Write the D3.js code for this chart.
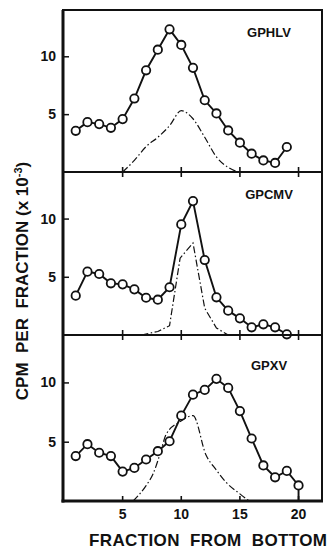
<!DOCTYPE html>
<html>
<head>
<meta charset="utf-8">
<script src="https://cdn.jsdelivr.net/npm/d3@7"></script>
<style>
  body { margin: 0; background: #fff; }
  text { font-family: "Liberation Sans", Arial, sans-serif; font-weight: bold; fill: #111; white-space: pre; }
</style>
</head>
<body>
<script>
// fraction numbers (x) for the circle series
const fractions = d3.range(1, 21);

// panel names, top to bottom
const panelNames = ["GPHLV", "GPCMV", "GPXV"];

// CPM per fraction (x 10^-3), circles
const gphlvCpm = [3.56, 4.31, 4.14, 3.82, 4.57, 6.35, 8.79, 10.57, 12.33, 10.98,
  9.0, 6.2, 5.06, 3.59, 2.53, 1.58, 1.0, 0.78, 2.16];
const gpcmvCpm = [3.38, 5.44, 5.24, 4.44, 4.35, 3.92, 3.2, 3.03, 4.1, 9.5,
  11.5, 6.44, 3.24, 2.09, 1.43, 0.66, 0.92, 0.66, 0.06];
const gpxvCpm = [3.79, 4.79, 4.07, 3.79, 2.48, 2.79, 3.5, 4.2, 5.04, 7.2,
  8.97, 9.37, 10.3, 9.54, 7.58, 5.27, 3.0, 2.0, 2.54, 1.31];

// dash-dot curves, [fraction, value]
const gphlvDash = [[5, 0], [6, 1.0], [7, 2.2], [8, 3.0], [9, 4.0], [10, 5.3],
  [11, 4.6], [12, 3.0], [13, 1.3], [14, 0.4], [14.8, 0]];
const gpcmvDash = [[6.6, 0], [8, 0.3], [9, 0.8], [9.9, 6.6], [11, 7.9],
  [12, 2.3], [13, 0.6], [14, 0]];
const gpxvDash = [[5.9, 0], [7, 1.3], [7.6, 2.3], [8.2, 4.0], [8.7, 5.6],
  [9.9, 6.7], [11, 7.2], [12.1, 3.9], [13, 2.6], [13.8, 1.6], [15, 0.6], [15.8, 0]];

// the GPXV trace drops to the axis after the last fraction
const gpxvTail = [[20, 0]];

const xTicks = [5, 10, 15, 20];
const yTicks = [5, 10];

const W = 330, H = 550;
const left = 64, right = 322;
const tops = [10, 172, 335];
const bottoms = [172, 335, 501];

const panels = [
  { name: panelNames[0], cpm: gphlvCpm, dash: gphlvDash, tail: [], curve: d3.curveMonotoneX },
  { name: panelNames[1], cpm: gpcmvCpm, dash: gpcmvDash, tail: [], curve: d3.curveLinear },
  { name: panelNames[2], cpm: gpxvCpm, dash: gpxvDash, tail: gpxvTail, curve: d3.curveMonotoneX },
];

const svg = d3.select("body").append("svg")
  .attr("width", W).attr("height", H);

const x = d3.scaleLinear().domain([0, 22]).range([left, right]);

panels.forEach((p, i) => {
  const y = d3.scaleLinear().domain([0, 14]).range([bottoms[i], tops[i]]);
  const g = svg.append("g");

  const pts = p.cpm.map((v, j) => [fractions[j], v]).concat(p.tail);
  const line = d3.line().x(d => x(d[0])).y(d => y(d[1]));

  // dash-dot curve
  g.append("path")
    .attr("d", line.curve(p.curve)(p.dash))
    .attr("fill", "none")
    .attr("stroke", "#111")
    .attr("stroke-width", 1.2)
    .attr("stroke-dasharray", "7,2.5,1.5,2.5");

  // circle trace
  g.append("path")
    .attr("d", line.curve(d3.curveLinear)(pts))
    .attr("fill", "none")
    .attr("stroke", "#111")
    .attr("stroke-width", 1.9);

  g.selectAll("circle")
    .data(p.cpm)
    .enter()
    .append("circle")
    .attr("cx", (d, j) => x(fractions[j]))
    .attr("cy", d => y(d))
    .attr("r", 4.2)
    .attr("fill", "#fff")
    .attr("stroke", "#111")
    .attr("stroke-width", 1.8);

  // y ticks (inward) and labels
  const yAxis = d3.axisLeft(y).tickValues(yTicks).tickSize(-5).tickPadding(8)
    .tickFormat(d3.format("d"));
  const ya = g.append("g").attr("transform", `translate(${left},0)`).call(yAxis);
  ya.select(".domain").remove();
  ya.selectAll("line").attr("stroke", "#111").attr("stroke-width", 1.5);
  ya.selectAll("text").style("font-size", "14px").attr("fill", "#111")
    .style("font-weight", "bold");

  // x ticks on panel bottom line
  const last = i === panels.length - 1;
  g.selectAll(".xt")
    .data(xTicks)
    .enter()
    .append("line")
    .attr("x1", d => x(d)).attr("x2", d => x(d))
    .attr("y1", bottoms[i] - 5)
    .attr("y2", bottoms[i] + (last ? 0 : 5))
    .attr("stroke", "#111")
    .attr("stroke-width", 1.6);

  g.append("text")
    .attr("x", 269).attr("y", tops[i] + (i === 2 ? 35 : 27))
    .attr("text-anchor", "middle")
    .style("font-size", "13px")
    .text(p.name);
});

// frame
svg.append("line").attr("x1", left - 1).attr("x2", left - 1)
  .attr("y1", tops[0]).attr("y2", bottoms[2] + 1.5)
  .attr("stroke", "#111").attr("stroke-width", 3);
svg.append("line").attr("x1", right).attr("x2", right)
  .attr("y1", tops[0]).attr("y2", bottoms[2])
  .attr("stroke", "#111").attr("stroke-width", 2);
svg.append("line").attr("x1", left - 2).attr("x2", right + 1)
  .attr("y1", tops[0]).attr("y2", tops[0])
  .attr("stroke", "#111").attr("stroke-width", 2);
[bottoms[0], bottoms[1]].forEach(b => {
  svg.append("line").attr("x1", left).attr("x2", right)
    .attr("y1", b).attr("y2", b)
    .attr("stroke", "#111").attr("stroke-width", 2);
});
svg.append("line").attr("x1", left - 2.5).attr("x2", right + 1)
  .attr("y1", bottoms[2]).attr("y2", bottoms[2])
  .attr("stroke", "#111").attr("stroke-width", 3);

// bottom tick labels
svg.selectAll(".xl")
  .data(xTicks)
  .enter()
  .append("text")
  .attr("x", d => x(d))
  .attr("y", 519)
  .attr("text-anchor", "middle")
  .style("font-size", "14px")
  .text(d => d);

// axis titles
svg.append("text")
  .attr("x", 208).attr("y", 546)
  .attr("text-anchor", "middle")
  .attr("textLength", 238)
  .attr("lengthAdjust", "spacing")
  .style("font-size", "17px")
  .text("FRACTION  FROM  BOTTOM");

const yl = svg.append("text")
  .attr("transform", "translate(28,281) rotate(-90)")
  .attr("text-anchor", "middle")
  .style("font-size", "17px");
yl.append("tspan").text("CPM  PER  FRACTION (x 10");
yl.append("tspan").attr("dy", -6).style("font-size", "11px").text("-3");
yl.append("tspan").attr("dy", 6).text(")");
</script>
</body>
</html>
